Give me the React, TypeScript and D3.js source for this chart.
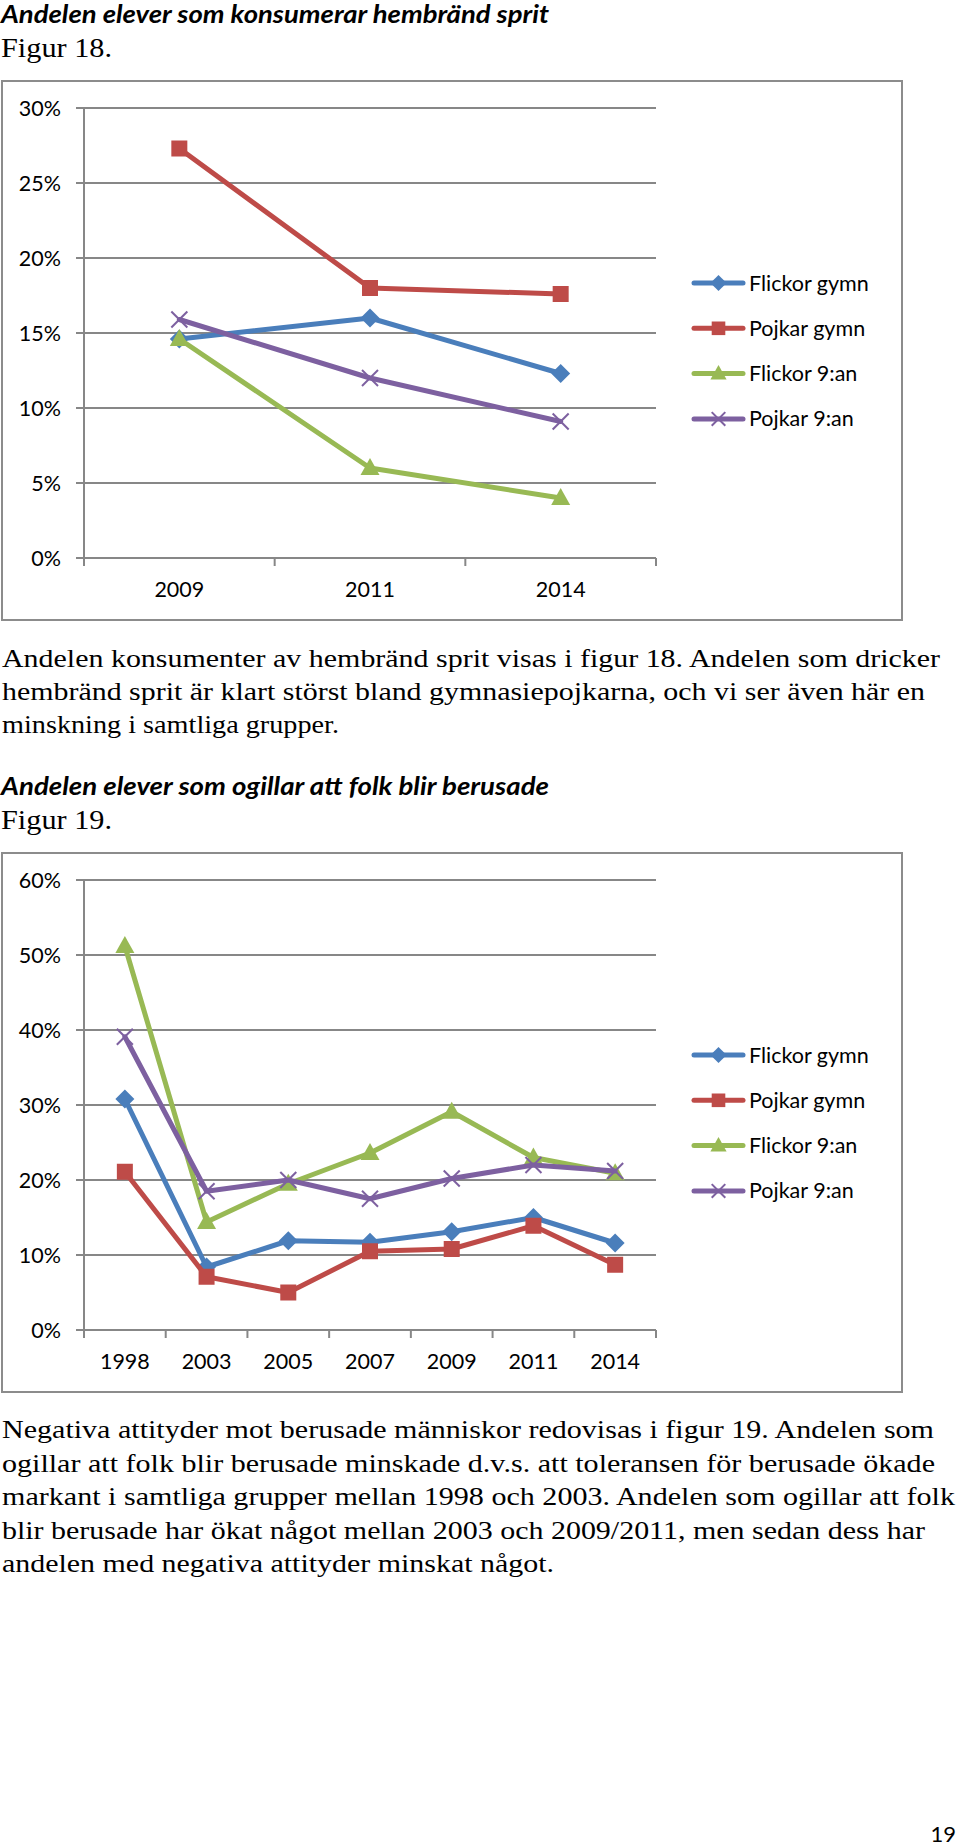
import React from 'react';
import * as d3 from 'd3';

// ---------- Figur 18 data ----------
const fig18Years = ['2009', '2011', '2014'];
const fig18FlickorGymn = [14.6, 16.0, 12.3];
const fig18PojkarGymn = [27.3, 18.0, 17.6];
const fig18Flickor9 = [14.6, 6.0, 4.0];
const fig18Pojkar9 = [15.9, 12.0, 9.1];
const fig18YTicks = [0, 5, 10, 15, 20, 25, 30];

// ---------- Figur 19 data ----------
const fig19Years = ['1998', '2003', '2005', '2007', '2009', '2011', '2014'];
const fig19FlickorGymn = [30.8, 8.4, 11.9, 11.7, 13.1, 15.0, 11.6];
const fig19PojkarGymn = [21.1, 7.1, 5.0, 10.5, 10.8, 13.9, 8.7];
const fig19Flickor9 = [51.2, 14.4, 19.5, 23.6, 29.1, 23.0, 20.9];
const fig19Pojkar9 = [39.1, 18.5, 20.0, 17.5, 20.2, 22.0, 21.2];
const fig19YTicks = [0, 10, 20, 30, 40, 50, 60];

const seriesNames = ['Flickor gymn', 'Pojkar gymn', 'Flickor 9:an', 'Pojkar 9:an'];
const seriesColors = ['#4A7EBB', '#BE4B48', '#98B954', '#7D60A0'];
const seriesMarkers = ['diamond', 'square', 'triangle', 'x'];

// ---------- Text ----------
const title18 = 'Andelen elever som konsumerar hembränd sprit';
const figLabel18 = 'Figur 18.';
const body18 = [
  'Andelen konsumenter av hembränd sprit visas i figur 18. Andelen som dricker',
  'hembränd sprit är klart störst bland gymnasiepojkarna, och vi ser även här en',
  'minskning i samtliga grupper.',
];
const body18Widths = [938, 923, 337];
const title19 = 'Andelen elever som ogillar att folk blir berusade';
const figLabel19 = 'Figur 19.';
const body19 = [
  'Negativa attityder mot berusade människor redovisas i figur 19. Andelen som',
  'ogillar att folk blir berusade minskade d.v.s. att toleransen för berusade ökade',
  'markant i samtliga grupper mellan 1998 och 2003. Andelen som ogillar att folk',
  'blir berusade har ökat något mellan 2003 och 2009/2011, men sedan dess har',
  'andelen med negativa attityder minskat något.',
];
const body19Widths = [932, 933, 953, 923, 552];
const pageNumber = '19';

const SANS = 'Lato, "Open Sans", "DejaVu Sans", sans-serif';
const SERIF = '"Liberation Serif", "Times New Roman", Times, serif';
const GRID = '#878787';

function Marker({ type, cx, cy, color, s = 1 }: { type: string; cx: number; cy: number; color: string; s?: number }) {
  if (type === 'diamond') {
    const r = 9.5 * s;
    return <path d={`M${cx},${cy - r}L${cx + r},${cy}L${cx},${cy + r}L${cx - r},${cy}Z`} fill={color} />;
  }
  if (type === 'square') {
    const h = 8 * s;
    return <rect x={cx - h} y={cy - h} width={2 * h} height={2 * h} fill={color} />;
  }
  if (type === 'triangle') {
    const w = 9.5 * s;
    return <path d={`M${cx},${cy - 10 * s}L${cx + w},${cy + 7 * s}L${cx - w},${cy + 7 * s}Z`} fill={color} />;
  }
  const r = 8 * s;
  return (
    <g stroke={color} strokeWidth={2}>
      <line x1={cx - r} y1={cy - r} x2={cx + r} y2={cy + r} />
      <line x1={cx - r} y1={cy + r} x2={cx + r} y2={cy - r} />
    </g>
  );
}

function LineChart({ top, cats, series, ticks }: { top: number; cats: string[]; series: number[][]; ticks: number[] }) {
  const left = 84;
  const right = 656;
  const x = d3.scaleBand<string>().domain(cats).range([left, right]);
  const y = d3.scaleLinear().domain([0, d3.max(ticks) as number]).range([top + 477, top + 27]);
  const cx = (c: string) => (x(c) as number) + x.bandwidth() / 2;
  const line = d3
    .line<number>()
    .x((_, i) => cx(cats[i]))
    .y((d) => y(d));
  const y0 = y(0);
  const legendTop = top + 202;
  return (
    <g>
      <rect x={2} y={top} width={900} height={539} fill="#fff" stroke="#8c8c8c" strokeWidth={2} />
      {ticks.map((t) => (
        <g key={t}>
          <line x1={76} x2={right} y1={y(t)} y2={y(t)} stroke={GRID} strokeWidth={2} />
          <text x={61} y={y(t) + 7.5} textAnchor="end" fontFamily={SANS} fontSize={21.5} fill="#000">
            {t}%
          </text>
        </g>
      ))}
      <line x1={left} x2={left} y1={y(ticks[ticks.length - 1])} y2={y0 + 8} stroke={GRID} strokeWidth={2} />
      {d3.range(cats.length + 1).map((i) => {
        const xx = left + i * x.bandwidth();
        return <line key={i} x1={xx} x2={xx} y1={y0} y2={y0 + 8} stroke={GRID} strokeWidth={2} />;
      })}
      {cats.map((c) => (
        <text key={c} x={cx(c)} y={y0 + 39} textAnchor="middle" fontFamily={SANS} fontSize={21.5} fill="#000">
          {c}
        </text>
      ))}
      {series.map((vals, si) => (
        <g key={si}>
          <path d={line(vals) as string} fill="none" stroke={seriesColors[si]} strokeWidth={5} strokeLinejoin="round" strokeLinecap="round" />
          {vals.map((v, i) => (
            <Marker key={i} type={seriesMarkers[si]} cx={cx(cats[i])} cy={y(v)} color={seriesColors[si]} />
          ))}
        </g>
      ))}
      {seriesNames.map((n, i) => {
        const ly = legendTop + i * 45.3;
        return (
          <g key={n}>
            <line x1={694} x2={743} y1={ly} y2={ly} stroke={seriesColors[i]} strokeWidth={5} strokeLinecap="round" />
            <Marker type={seriesMarkers[i]} cx={718.5} cy={ly} color={seriesColors[i]} s={0.85} />
            <text x={749} y={ly + 7.5} fontFamily={SANS} fontSize={21.5} fill="#000">
              {n}
            </text>
          </g>
        );
      })}
    </g>
  );
}

function Heading({ y, text }: { y: number; text: string }) {
  return (
    <text x={1} y={y} fontFamily={SANS} fontSize={24} fontWeight="bold" fontStyle="italic" fill="#000" textLength={548} lengthAdjust="spacingAndGlyphs">
      {text}
    </text>
  );
}

function Body({ lines, widths, y0, dy }: { lines: string[]; widths: number[]; y0: number; dy: number }) {
  return (
    <g>
      {lines.map((l, i) => (
        <text key={i} x={2} y={y0 + i * dy} fontFamily={SERIF} fontSize={26} fill="#000" textLength={widths[i]} lengthAdjust="spacingAndGlyphs">
          {l}
        </text>
      ))}
    </g>
  );
}

export default function App() {
  return (
    <svg width={960} height={1848} style={{ position: 'absolute', left: 0, top: 0, background: '#fff' }}>
      <rect width={960} height={1848} fill="#fff" />
      <Heading y={23} text={title18} />
      <text x={1} y={57} fontFamily={SERIF} fontSize={27} fill="#000" textLength={111} lengthAdjust="spacingAndGlyphs">
        {figLabel18}
      </text>
      <LineChart top={81} cats={fig18Years} series={[fig18FlickorGymn, fig18PojkarGymn, fig18Flickor9, fig18Pojkar9]} ticks={fig18YTicks} />
      <Body lines={body18} widths={body18Widths} y0={667} dy={33} />
      <Heading y={795} text={title19} />
      <text x={1} y={829} fontFamily={SERIF} fontSize={27} fill="#000" textLength={111} lengthAdjust="spacingAndGlyphs">
        {figLabel19}
      </text>
      <LineChart top={853} cats={fig19Years} series={[fig19FlickorGymn, fig19PojkarGymn, fig19Flickor9, fig19Pojkar9]} ticks={fig19YTicks} />
      <Body lines={body19} widths={body19Widths} y0={1438} dy={33.5} />
      <text x={956} y={1842} textAnchor="end" fontFamily={SANS} fontSize={22} fill="#000">
        {pageNumber}
      </text>
    </svg>
  );
}
